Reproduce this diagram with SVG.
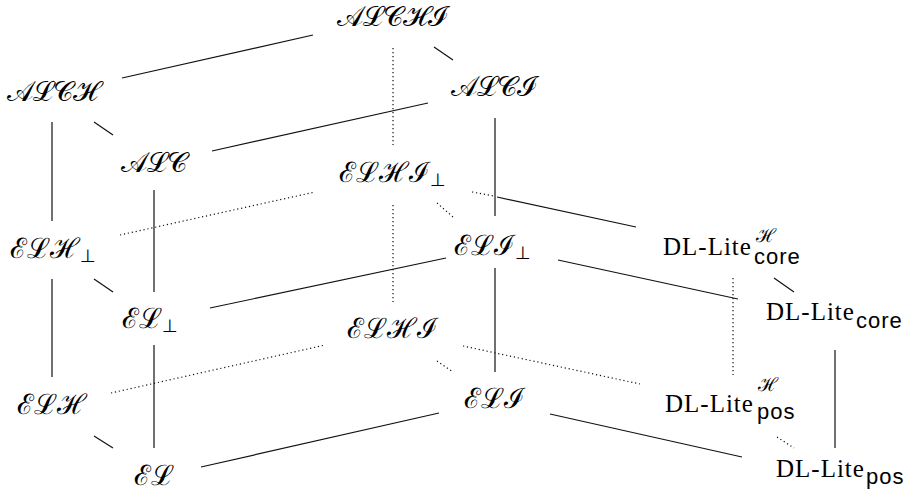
<svg xmlns="http://www.w3.org/2000/svg" width="907" height="499" viewBox="0 0 907 499">
<style>
.m{font-family:'Liberation Serif',serif;font-size:28px;fill:#000}
.bot{font-family:'DejaVu Sans',sans-serif;font-size:18px}
.sup{font-family:'Liberation Serif',serif;font-size:19px;fill:#000}
.sf{font-family:'Liberation Sans',sans-serif;font-size:22px;letter-spacing:1px;fill:#000}
.s line{stroke:#111;stroke-width:1.2;fill:none}
.d line{stroke:#111;stroke-width:1.2;stroke-dasharray:1.2 2.8;fill:none}
</style>
<rect width="907" height="499" fill="#fff"/>
<g id="connectors">
<g class="s">
<line x1="122" y1="78" x2="313" y2="35"/>
<line x1="434" y1="47" x2="453" y2="60"/>
<line x1="94" y1="122" x2="113" y2="135"/>
<line x1="212" y1="151" x2="428" y2="103"/>
<line x1="52" y1="122" x2="52" y2="221"/>
<line x1="154" y1="190" x2="154" y2="292"/>
<line x1="495" y1="118" x2="495" y2="216"/>
<line x1="497" y1="197" x2="636" y2="227"/>
<line x1="94" y1="279" x2="113" y2="292"/>
<line x1="210" y1="308" x2="446" y2="258"/>
<line x1="52" y1="279" x2="52" y2="377"/>
<line x1="154" y1="345" x2="154" y2="448"/>
<line x1="495" y1="268" x2="495" y2="372"/>
<line x1="558" y1="260" x2="738" y2="299"/>
<line x1="774" y1="278" x2="794" y2="292"/>
<line x1="835" y1="350" x2="835" y2="448"/>
<line x1="201" y1="467" x2="439" y2="413"/>
<line x1="550" y1="414" x2="742" y2="457"/>
<line x1="94" y1="436" x2="113" y2="448"/>
</g>
<g class="d">
<line x1="393" y1="48" x2="393" y2="145"/>
<line x1="120" y1="235" x2="315" y2="192"/>
<line x1="437" y1="203" x2="453" y2="217"/>
<line x1="393" y1="205" x2="393" y2="302"/>
<line x1="111" y1="393" x2="325" y2="345"/>
<line x1="437" y1="361" x2="453" y2="372"/>
<line x1="463" y1="346" x2="640" y2="384"/>
<line x1="733" y1="278" x2="733" y2="375"/>
<line x1="777" y1="437" x2="794" y2="448"/>
<line x1="472" y1="192" x2="494" y2="196"/>
</g>
</g>
<g id="n-alchi"><text class="m" x="392" y="26" text-anchor="middle">𝒜ℒ𝒞ℋℐ</text></g>
<g id="n-alch"><text class="m" x="52" y="101" text-anchor="middle">𝒜ℒ𝒞ℋ</text></g>
<g id="n-alc"><text class="m" x="154" y="172" text-anchor="middle">𝒜ℒ𝒞</text></g>
<g id="n-alci"><text class="m" x="494" y="96" text-anchor="middle">𝒜ℒ𝒞ℐ</text></g>
<g id="n-elhib"><text class="m" x="339" y="182">ℰℒℋℐ<tspan class="bot" dy="4">⊥</tspan></text></g>
<g id="n-elib"><text class="m" x="454" y="255">ℰℒℐ<tspan class="bot" dy="4">⊥</tspan></text></g>
<g id="n-elhb"><text class="m" x="10" y="258">ℰℒℋ<tspan class="bot" dy="4">⊥</tspan></text></g>
<g id="n-elb"><text class="m" x="122" y="328">ℰℒ<tspan class="bot" dy="4">⊥</tspan></text></g>
<g id="n-elhi"><text class="m" x="392" y="338" text-anchor="middle">ℰℒℋℐ</text></g>
<g id="n-eli"><text class="m" x="494" y="408" text-anchor="middle">ℰℒℐ</text></g>
<g id="n-elh"><text class="m" x="52" y="414" text-anchor="middle">ℰℒℋ</text></g>
<g id="n-el"><text class="m" x="154" y="485" text-anchor="middle">ℰℒ</text></g>
<g id="n-dlcoreh"><text x="663" y="255" font-family="serif" style="font-family:'Liberation Serif','Times New Roman',serif;font-size:25px;letter-spacing:1px">DL-Lite</text><text class="sup" x="756" y="242">ℋ</text><text class="sf" x="754" y="264">core</text></g>
<g id="n-dlcore"><text x="766" y="320" font-family="serif" style="font-family:'Liberation Serif','Times New Roman',serif;font-size:25px;letter-spacing:1px">DL-Lite</text><text class="sf" x="856" y="328">core</text></g>
<g id="n-dlposh"><text x="665" y="412" font-family="serif" style="font-family:'Liberation Serif','Times New Roman',serif;font-size:25px;letter-spacing:1px">DL-Lite</text><text class="sup" x="758" y="391">ℋ</text><text class="sf" x="757" y="419">pos</text></g>
<g id="n-dlpos"><text x="776" y="477" font-family="serif" style="font-family:'Liberation Serif','Times New Roman',serif;font-size:25px;letter-spacing:1px">DL-Lite</text><text class="sf" x="866" y="484">pos</text></g>
</svg>
